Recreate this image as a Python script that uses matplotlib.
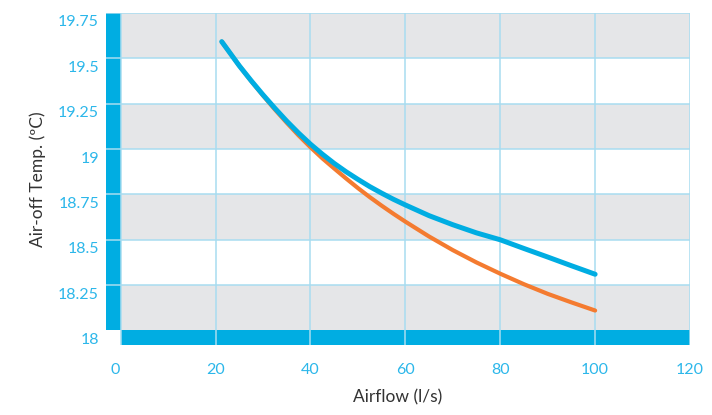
import matplotlib
matplotlib.use("Agg")
import matplotlib.pyplot as plt
from matplotlib.patches import Rectangle
from matplotlib.transforms import ScaledTranslation

# ---- data ----
airflow_blue = [21.3, 22.5, 25, 27.5, 30, 32.5, 35, 37.5, 40, 42.5, 45, 47.5, 50, 52.5,
                55, 57.5, 60, 65, 70, 75, 80, 85, 90, 95, 100]
temp_blue = [19.592, 19.549, 19.459, 19.377, 19.299, 19.225, 19.154, 19.088, 19.027,
             18.972, 18.921, 18.875, 18.833, 18.793, 18.757, 18.723, 18.692, 18.633,
             18.583, 18.538, 18.500, 18.452, 18.405, 18.357, 18.310]
airflow_orange = [21.3, 22.5, 25, 27.5, 30, 32.5, 35, 37.5, 40, 42.5, 45, 47.5, 50, 52.5,
                  55, 57.5, 60, 65, 70, 75, 80, 85, 90, 95, 100]
temp_orange = [19.592, 19.549, 19.459, 19.375, 19.295, 19.218, 19.145, 19.075, 19.010,
               18.949, 18.893, 18.838, 18.785, 18.735, 18.688, 18.643, 18.600, 18.518,
               18.443, 18.375, 18.313, 18.255, 18.202, 18.155, 18.110]
x_ticks = [0, 20, 40, 60, 80, 100, 120]
y_ticks = [18, 18.25, 18.5, 18.75, 19, 19.25, 19.5, 19.75]
y_tick_labels = ["18", "18.25", "18.5", "18.75", "19", "19.25", "19.5", "19.75"]

BLUE = "#00ade2"
ORANGE = "#f47b30"
TICK = "#2cb7ea"
GRID = "#a8dcf0"
GRAY = "#e5e6e8"

plt.rcParams['font.family'] = ['Lato', 'DejaVu Sans']

fig = plt.figure(figsize=(7.12, 4.15), dpi=100)
ax = fig.add_axes([106/712, 1 - 345/415, 584/712, 332/415])

xmin, xmax = -3.1, 120
ymin, ymax = 17.92, 19.75
ax.set_xlim(xmin, xmax)
ax.set_ylim(ymin, ymax)

# bands
for i in range(len(y_ticks) - 1):
    c = GRAY if i % 2 == 0 else "white"
    ax.add_patch(Rectangle((0, y_ticks[i]), 120, y_ticks[i + 1] - y_ticks[i],
                           facecolor=c, edgecolor="none", zorder=0))
# thick blue "axis" bars
ax.add_patch(Rectangle((xmin, 18), -xmin, 1.75, facecolor=BLUE, edgecolor="none", zorder=1))
ax.add_patch(Rectangle((0, ymin), 120, 18 - ymin, facecolor=BLUE, edgecolor="none", zorder=1))

# grid
for yv in y_ticks[1:]:
    ax.plot([xmin, 120], [yv, yv], color=GRID, lw=1.1, zorder=2, solid_capstyle="butt")
for xv in x_ticks:
    ax.plot([xv, xv], [ymin, 19.75], color=GRID, lw=1.1, zorder=2, solid_capstyle="butt")

ax.plot(airflow_orange, temp_orange, color=ORANGE, lw=3.0, zorder=3,
        solid_capstyle="round", solid_joinstyle="round")
ax.plot(airflow_blue, temp_blue, color=BLUE, lw=3.6, zorder=4,
        solid_capstyle="round", solid_joinstyle="round")

for s in ax.spines.values():
    s.set_visible(False)
ax.set_xticks(x_ticks)
ax.set_yticks(y_ticks)
ax.set_yticklabels(y_tick_labels)
ax.tick_params(axis="both", length=0, labelcolor=TICK, labelsize=11.5)
ax.tick_params(axis="y", pad=5)
ax.tick_params(axis="x", pad=13)

# y tick labels sit slightly below their gridlines in the reference
dy = ScaledTranslation(0, -8/100, fig.dpi_scale_trans)
for lab in ax.get_yticklabels():
    lab.set_transform(lab.get_transform() + dy)
xl = ax.get_xticklabels()
xl[0].set_transform(xl[0].get_transform() + ScaledTranslation(-6/100, 0, fig.dpi_scale_trans))

ax.set_xlabel("Airflow (l/s)", color="#333333", fontsize=12.5, labelpad=9)
ax.set_ylabel("Air-off Temp. (ºC)", color="#333333", fontsize=12.5, labelpad=9)

fig.savefig("out.png", dpi=100)
